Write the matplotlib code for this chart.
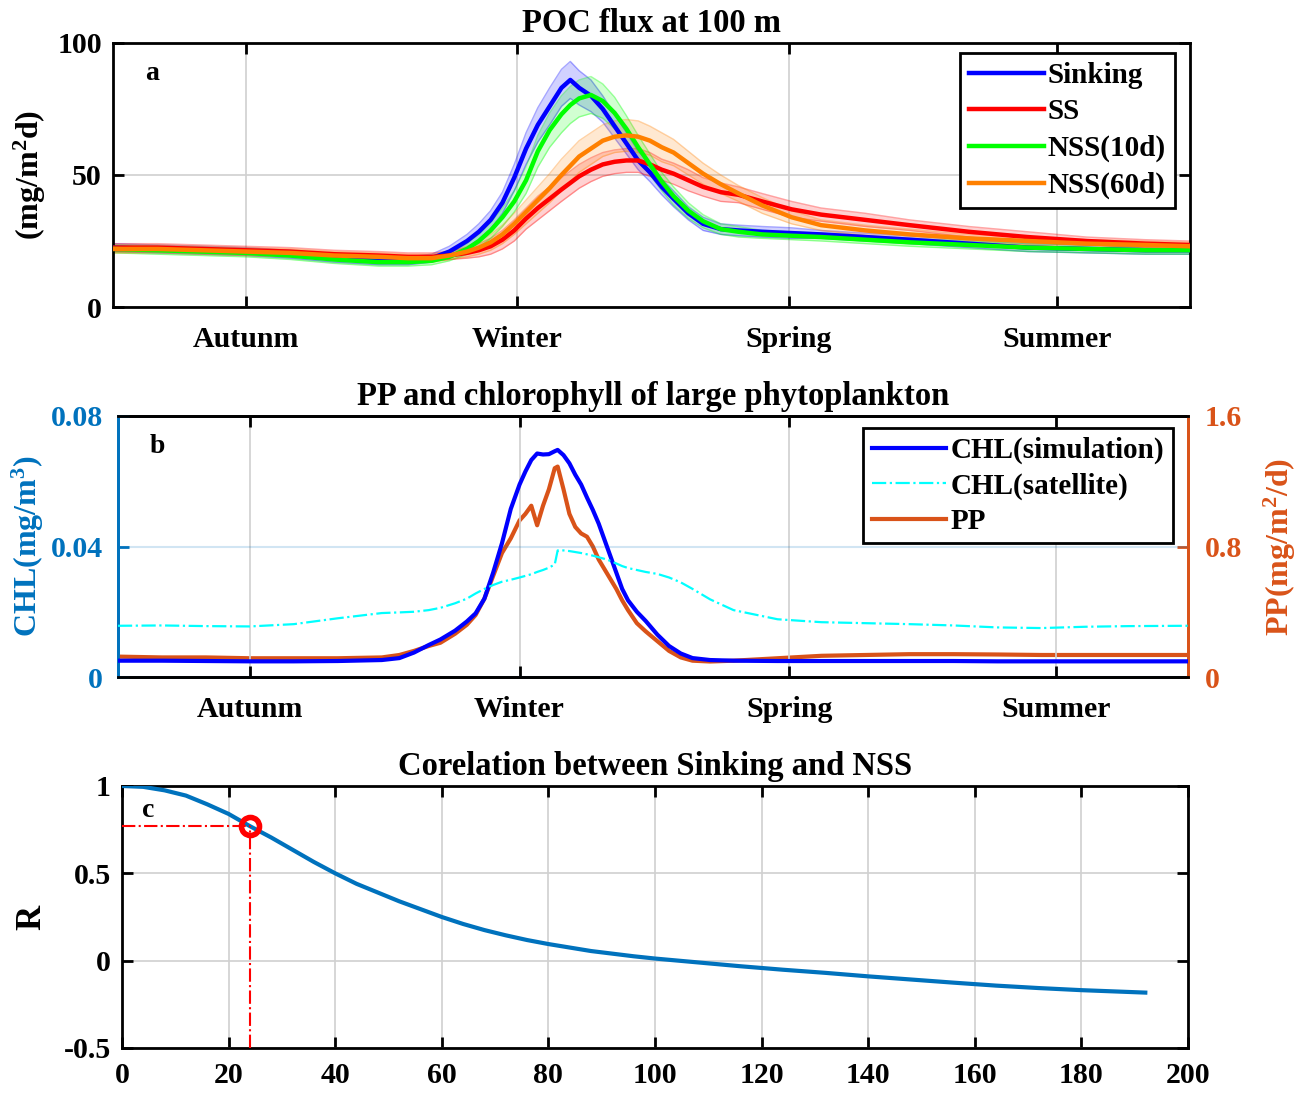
import matplotlib
matplotlib.use('Agg')
import matplotlib.pyplot as plt
import numpy as np

plt.rcParams['font.family'] = 'Liberation Serif'
plt.rcParams['font.weight'] = 'bold'
plt.rcParams['axes.labelweight'] = 'bold'
plt.rcParams['mathtext.fontset'] = 'custom'
plt.rcParams['mathtext.rm'] = 'Liberation Serif:bold'
plt.rcParams['mathtext.it'] = 'Liberation Serif:bold'
plt.rcParams['mathtext.bf'] = 'Liberation Serif:bold'

# ---------------- panel a : POC flux at 100 m ----------------
days_a = [0, 15, 30, 45, 60, 75, 90, 100, 108, 114, 120, 124, 128, 132, 136, 140, 144,
          148, 152, 155, 158, 162, 166, 170, 174, 178, 182, 186, 190, 195, 200, 206,
          212, 220, 230, 240, 255, 270, 290, 310, 330, 350, 365]
sinking = [22.5, 22, 21.5, 21, 20, 18.5, 17.5, 17.5, 18.5, 21, 25, 28.5, 33, 39.5, 49, 60, 69,
           76, 83, 86, 83, 80, 75, 68.5, 62, 55.5, 51, 45.5, 41, 35.5, 31.5, 29.5,
           29, 28.5, 28, 27.5, 26.5, 25.5, 24, 22.5, 22, 21.5, 21.5]
sinking_err = [1.5, 1.5, 1.5, 1.5, 1.5, 1.5, 1.5, 1.5, 1.5, 2, 2.5, 3, 3.5, 4, 5, 6, 6.5,
               7, 7, 7, 6.5, 6, 5, 4.5, 4, 3.5, 3.5, 3, 3, 2.5, 2.5, 2,
               2, 2, 2, 1.5, 1.5, 1.5, 1.5, 1.5, 1.5, 1.5, 1.5]
ss = [22.5, 22.5, 22, 21.5, 21, 20, 19.5, 19, 19, 19.5, 20.5, 21.5, 23, 25.5, 29, 33.5, 37.5,
      41, 44.5, 47, 49.5, 52, 54, 55, 55.5, 55.5, 54, 52, 50.5, 48, 45.5, 43.5,
      42.5, 40, 37, 35, 33, 31, 28.5, 26.5, 25, 24, 23.5]
ss_err = [1.5, 1.5, 1.5, 1.5, 1.5, 1.5, 1.5, 1.5, 1.5, 1.5, 2, 2.5, 3, 3.5, 4, 4, 4.5,
          4.5, 4.5, 4.5, 4.5, 4.5, 4.5, 4.5, 4.5, 4.5, 4.5, 4, 4, 4, 3.5, 3.5,
          3, 3, 3, 2.5, 2.5, 2, 2, 2, 1.5, 1.5, 1.5]
nss10 = [22, 21.5, 21, 20.5, 19.5, 18, 17, 17, 17.5, 19, 22, 25, 29, 34, 40, 48, 59,
         67, 73, 76.5, 79, 80.3, 78, 73.5, 67.5, 60.5, 54, 47.5, 42, 36.5, 32.5, 29.5,
         28.5, 27.5, 27, 26.5, 25.5, 24.5, 23.5, 22.5, 22, 21.5, 21.5]
nss10_err = [1.5, 1.5, 1.5, 1.5, 1.5, 1.5, 1.5, 1.5, 1.5, 1.5, 2, 2.5, 3, 3.5, 4, 5, 6,
             6.5, 7, 7, 7, 7, 6.5, 6, 5, 4.5, 4, 3.5, 3.5, 3, 2.5, 2,
             2, 1.5, 1.5, 1.5, 1.5, 1.5, 1.5, 1.5, 1.5, 1.5, 1.5]
nss60 = [22, 22, 21.5, 21, 20.5, 19.5, 19, 18.5, 18.5, 19.5, 21, 22.5, 24.5, 27.5, 31.5, 36, 40.5,
         45, 50, 53.5, 57, 60, 63, 64.5, 65, 64.5, 63, 60.5, 58.5, 54.5, 50.5, 46.5,
         43, 38.5, 34, 31, 29, 27.5, 26, 25, 24, 23.5, 23]
nss60_err = [1.5, 1.5, 1.5, 1.5, 1.5, 1.5, 1.5, 1.5, 1.5, 1.5, 2, 2.5, 3, 3.5, 4, 4.5, 5,
             5.5, 6, 6, 6, 6, 6, 6, 6, 6, 5.5, 5.5, 5, 4.5, 4, 3.5,
             3, 3, 2.5, 2, 2, 2, 1.5, 1.5, 1.5, 1.5, 1.5]

season_days = [45, 137, 229, 320]
season_names = ['Autunm', 'Winter', 'Spring', 'Summer']

# ---------------- panel b : PP and chlorophyll ----------------
days_b = [0, 15, 30, 45, 60, 75, 90, 96, 101, 106, 110, 115, 119, 122, 125, 128, 131, 134,
          137, 139, 141, 143, 145, 147, 149, 150, 152, 154, 156, 158, 160, 162, 164, 166,
          168, 170, 172, 174, 177, 180, 184, 188, 192, 196, 202, 210, 225, 240, 255, 270,
          285, 300, 315, 330, 345, 365]
chl_sim = [0.0050, 0.0050, 0.0049, 0.0048, 0.0048, 0.0049, 0.0052, 0.0058, 0.0075, 0.0098,
           0.0115, 0.0142, 0.0170, 0.0195, 0.0240, 0.0320, 0.0410, 0.0515, 0.0590, 0.0630,
           0.0665, 0.0685, 0.0682, 0.0683, 0.0692, 0.0696, 0.0680, 0.0655, 0.0620, 0.0590,
           0.0550, 0.0512, 0.0470, 0.0420, 0.0370, 0.0320, 0.0270, 0.0235, 0.0200, 0.0172,
           0.0130, 0.0095, 0.0072, 0.0058, 0.0052, 0.0050, 0.0049, 0.0049, 0.0049, 0.0049,
           0.0049, 0.0048, 0.0048, 0.0048, 0.0048, 0.0048]
chl_sat = [0.0157, 0.0158, 0.0156, 0.0155, 0.0162, 0.0180, 0.0196, 0.0198, 0.0200, 0.0205,
           0.0212, 0.0226, 0.0240, 0.0256, 0.0270, 0.0282, 0.0292, 0.0298, 0.0305, 0.0310,
           0.0315, 0.0322, 0.0328, 0.0335, 0.0345, 0.0388, 0.0388, 0.0386, 0.0383, 0.0380,
           0.0376, 0.0372, 0.0367, 0.0362, 0.0356, 0.0348, 0.0340, 0.0334, 0.0328, 0.0322,
           0.0316, 0.0305, 0.0290, 0.0270, 0.0238, 0.0205, 0.0177, 0.0168, 0.0165, 0.0162,
           0.0158, 0.0152, 0.0150, 0.0154, 0.0156, 0.0157]
pp = [0.125, 0.12, 0.12, 0.115, 0.115, 0.115, 0.12, 0.135, 0.16, 0.19,
      0.21, 0.265, 0.32, 0.38, 0.48, 0.62, 0.76, 0.85, 0.96, 1.0,
      1.05, 0.93, 1.05, 1.15, 1.28, 1.29, 1.15, 1.0, 0.92, 0.88,
      0.86, 0.8, 0.72, 0.66, 0.6, 0.54, 0.47, 0.41, 0.33, 0.28,
      0.22, 0.16, 0.12, 0.1, 0.095, 0.1, 0.115, 0.13, 0.135, 0.14,
      0.14, 0.138, 0.135, 0.135, 0.135, 0.135]

# ---------------- panel c : correlation vs lag ----------------
lag = [0, 4, 8, 12, 16, 20, 24, 28, 32, 36, 40, 44, 48, 52, 56, 60, 64, 68, 72, 76, 80,
       84, 88, 92, 96, 100, 108, 116, 124, 132, 140, 148, 156, 164, 172, 180, 186, 192]
corr = [1.0, 0.995, 0.975, 0.945, 0.895, 0.84, 0.77, 0.705, 0.635, 0.565, 0.5, 0.44, 0.39,
        0.34, 0.295, 0.25, 0.21, 0.175, 0.145, 0.118, 0.095, 0.075, 0.055, 0.04, 0.025,
        0.012, -0.01, -0.032, -0.052, -0.07, -0.09, -0.108, -0.126, -0.143, -0.157,
        -0.169, -0.176, -0.183]
best_lag = 24
best_r = 0.77

MBLUE = '#0072BD'
MORANGE = '#D95319'
GRID = '#d0d0d0'
TICK_FS = 21.5
TITLE_FS = 23.5

fig = plt.figure(figsize=(12.99, 10.93), dpi=100)
axa = fig.add_axes([0.087, 0.7191, 0.829, 0.2416])
axb = fig.add_axes([0.0908, 0.3806, 0.8237, 0.2388])
axc = fig.add_axes([0.0939, 0.0412, 0.8206, 0.2397])


def style_box(ax):
    for s in ax.spines.values():
        s.set_linewidth(2)
    ax.tick_params(direction='in', length=8, width=2, labelsize=TICK_FS)
    ax.tick_params(axis='y', pad=8)


# panel a
series = [(sinking, sinking_err, 'Sinking', '#0000FF'),
          (ss, ss_err, 'SS', '#FF0000'),
          (nss10, nss10_err, 'NSS(10d)', '#00FF00'),
          (nss60, nss60_err, 'NSS(60d)', '#FF8000')]
for vals, err, name, col in series:
    v = np.array(vals)
    e = np.array(err)
    axa.fill_between(days_a, v - e, v + e, color=col, alpha=0.18, lw=0, zorder=2)
    axa.plot(days_a, v - e, color=col, alpha=0.35, lw=1, zorder=2)
    axa.plot(days_a, v + e, color=col, alpha=0.35, lw=1, zorder=2)
for vals, err, name, col in series:
    axa.plot(days_a, vals, color=col, lw=3.2, label=name, zorder=3)
axa.set_xlim(0, 365)
axa.set_ylim(0, 100)
axa.set_yticks([0, 50, 100])
axa.set_xticks(season_days)
axa.set_xticklabels(season_names)
axa.grid(True, color=GRID, lw=1.2, zorder=0)
axa.set_axisbelow(True)
style_box(axa)
axa.tick_params(top=True, right=True)
axa.tick_params(axis='x', pad=14)
axa.set_ylabel('(mg/m$^2$d)', fontsize=23)
axa.yaxis.set_label_coords(-0.060, 0.5)
axa.set_title('POC flux at 100 m', fontsize=TITLE_FS, fontweight='bold', pad=8)
axa.text(0.03, 0.886, 'a', transform=axa.transAxes, fontsize=20, va='center', ha='left')
leg = axa.legend(loc='upper right', fontsize=21, handlelength=2.55, handletextpad=0.15,
                 labelspacing=0.33, borderpad=0.3, borderaxespad=0, fancybox=False,
                 framealpha=1, edgecolor='black', bbox_to_anchor=(0.986, 0.962))
leg.get_frame().set_linewidth(2)

# panel b
axb2 = axb.twinx()
l1, = axb.plot(days_b, chl_sim, color='#0000FF', lw=3, label='CHL(simulation)', zorder=3)
l2, = axb.plot(days_b, chl_sat, color='#00FFFF', lw=1.6, ls='-.', label='CHL(satellite)', zorder=3)
l3, = axb2.plot(days_b, pp, color=MORANGE, lw=3, label='PP', zorder=3)
axb.set_xlim(0, 365)
axb.set_ylim(0, 0.08)
axb2.set_ylim(0, 1.6)
axb.set_yticks([0, 0.04, 0.08])
axb.set_yticklabels(['0', '0.04', '0.08'])
axb2.set_yticks([0, 0.8, 1.6])
axb2.set_yticklabels(['0', '0.8', '1.6'])
axb.set_xticks(season_days)
axb.set_xticklabels(season_names)
axb.grid(True, axis='x', color=GRID, lw=1.2)
axb.grid(True, axis='y', color=MBLUE, alpha=0.18, lw=1.5)
axb.set_axisbelow(True)
style_box(axb)
style_box(axb2)
axb.tick_params(top=True)
axb.tick_params(axis='x', pad=14)
axb.tick_params(axis='y', colors=MBLUE, pad=11)
axb2.tick_params(axis='y', colors=MORANGE, pad=12)
axb2.spines['left'].set_color(MBLUE)
axb2.spines['right'].set_color(MORANGE)
axb.spines['left'].set_color(MBLUE)
axb.spines['right'].set_color(MORANGE)
axb.set_ylabel('CHL(mg/m$^3$)', fontsize=23, color=MBLUE)
axb.yaxis.set_label_coords(-0.067, 0.5)
axb2.set_ylabel('PP(mg/m$^2$/d)', fontsize=23, color=MORANGE)
axb2.yaxis.set_label_coords(1.069, 0.5)
axb.set_title('PP and chlorophyll of large phytoplankton', fontsize=TITLE_FS, fontweight='bold', pad=8)
axb.text(0.03, 0.885, 'b', transform=axb.transAxes, fontsize=20, va='center', ha='left')
leg = axb.legend([l1, l2, l3], ['CHL(simulation)', 'CHL(satellite)', 'PP'], loc='upper right',
                 handlelength=2.55, handletextpad=0.15, labelspacing=0.28, borderpad=0.3,
                 borderaxespad=0, fancybox=False, framealpha=1, edgecolor='black',
                 bbox_to_anchor=(0.986, 0.954), prop={'weight': 'bold', 'size': 21})
leg.get_frame().set_linewidth(2)
axb2.set_zorder(axb.get_zorder() - 1)
axb.patch.set_visible(False)

# panel c
axc.plot(lag, corr, color=MBLUE, lw=3, zorder=3)
axc.plot([0, best_lag], [best_r, best_r], color='#FF0000', ls='-.', lw=1.5, zorder=3)
axc.plot([best_lag, best_lag], [-0.5, best_r], color='#FF0000', ls='-.', lw=1.5, zorder=3)
axc.plot([best_lag], [best_r], 'o', ms=13, mfc='none', mec='#FF0000', mew=4, zorder=4)
axc.set_xlim(0, 200)
axc.set_ylim(-0.5, 1)
axc.set_xticks(np.arange(0, 201, 20))
axc.set_yticks([-0.5, 0, 0.5, 1])
axc.set_yticklabels(['-0.5', '0', '0.5', '1'])
axc.grid(True, color=GRID, lw=1.2)
axc.set_axisbelow(True)
style_box(axc)
axc.tick_params(top=True, right=True)
axc.tick_params(axis='x', pad=10)
axc.set_ylabel('R', fontsize=25)
axc.yaxis.set_label_coords(-0.069, 0.5)
axc.set_title('Corelation between Sinking and NSS', fontsize=TITLE_FS, fontweight='bold', pad=8)
axc.text(0.019, 0.908, 'c', transform=axc.transAxes, fontsize=20, va='center', ha='left')

fig.savefig('out.png', dpi=100)
